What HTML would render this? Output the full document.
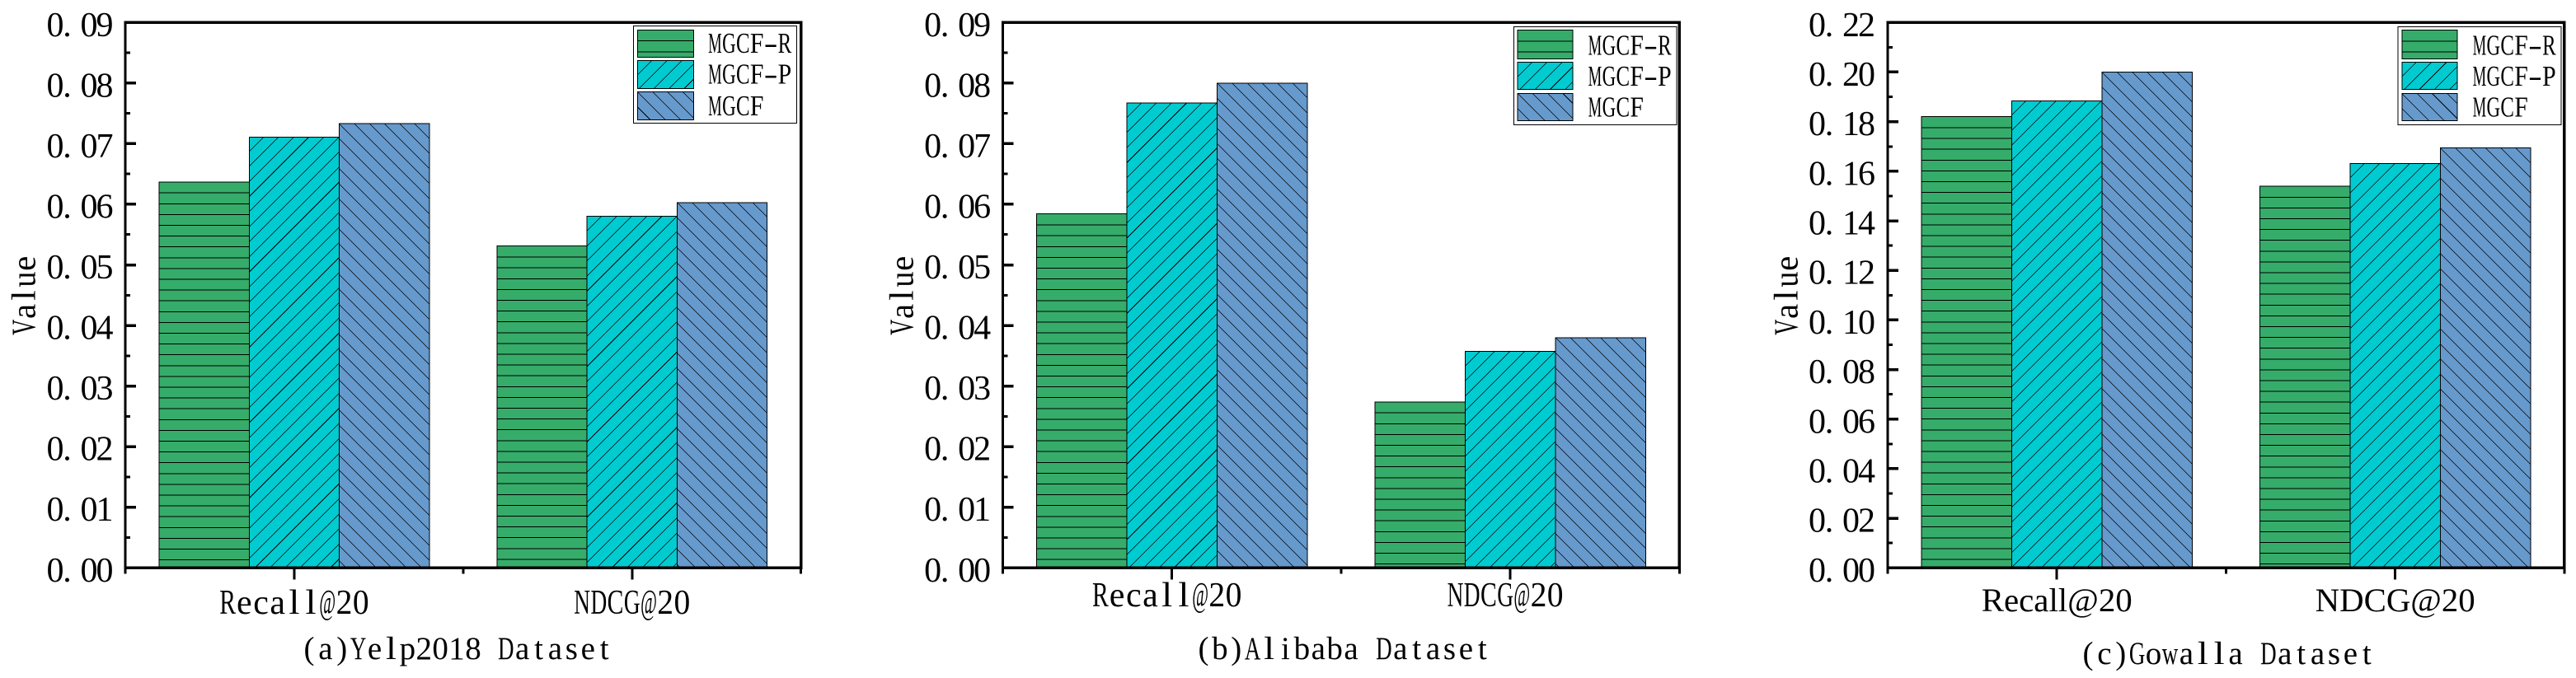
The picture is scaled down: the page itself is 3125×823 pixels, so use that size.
<!DOCTYPE html>
<html lang="en">
<head>
<meta charset="utf-8">
<title>MGCF comparison charts</title>
<style>
html,body{margin:0;padding:0;background:#fff;width:3125px;height:823px;overflow:hidden}
svg{display:block}
text{font-family:"Liberation Serif","Noto Serif CJK SC",serif;fill:#000}
.leg{font-size:35px}
.cap{font-size:39px}
.val{font-size:41px}
</style>
</head>
<body>
<svg id="figure" xmlns="http://www.w3.org/2000/svg" width="3125" height="823" viewBox="0 0 3125 823">
  <defs id="defs"></defs>
  <rect x="0" y="0" width="3125" height="823" fill="#fff"/>

  <g id="panel-a">
    <g id="marks-a"></g>
    <text class="val mono" data-slot="19.4" x="0" y="0" transform="translate(42.5,407) rotate(-90)">Value</text>
    <text class="cap mono" data-slot="19.9" x="365" y="800">(a)Yelp2018 Dataset</text>
    <g>
      <rect x="768.3" y="31.5" width="198.4" height="118" fill="#fff" stroke="#000" stroke-width="1" shape-rendering="crispEdges"/>
      <g id="legend-a"></g>
      <text class="leg mono" data-slot="16.9" x="859" y="64">MGCF-R</text>
      <text class="leg mono" data-slot="16.9" x="859" y="101.7">MGCF-P</text>
      <text class="leg mono" data-slot="16.9" x="859" y="140">MGCF</text>
    </g>
  </g>

  <g id="panel-b">
    <g id="marks-b"></g>
    <text class="val mono" data-slot="19.4" x="0" y="0" transform="translate(1107.5,407) rotate(-90)">Value</text>
    <text class="cap mono" data-slot="19.9" x="1450" y="800">(b)Alibaba Dataset</text>
    <g>
      <rect x="1836.3" y="32.5" width="197.7" height="119" fill="#fff" stroke="#000" stroke-width="1" shape-rendering="crispEdges"/>
      <g id="legend-b"></g>
      <text class="leg mono" data-slot="16.9" x="1926.5" y="66.7">MGCF-R</text>
      <text class="leg mono" data-slot="16.9" x="1926.5" y="104">MGCF-P</text>
      <text class="leg mono" data-slot="16.9" x="1926.5" y="141.7">MGCF</text>
    </g>
  </g>

  <g id="panel-c">
    <g id="marks-c"></g>
    <text class="val mono" data-slot="19.4" x="0" y="0" transform="translate(2180.5,407) rotate(-90)">Value</text>
    <text class="cap mono" data-slot="19.9" x="2523" y="806">(c)Gowalla Dataset</text>
    <g>
      <rect x="2909" y="32.5" width="198" height="119" fill="#fff" stroke="#000" stroke-width="1" shape-rendering="crispEdges"/>
      <g id="legend-c"></g>
      <text class="leg mono" data-slot="16.9" x="2999.4" y="66.7">MGCF-R</text>
      <text class="leg mono" data-slot="16.9" x="2999.4" y="104">MGCF-P</text>
      <text class="leg mono" data-slot="16.9" x="2999.4" y="141.7">MGCF</text>
    </g>
  </g>
</svg>

<script>
const categories = ['Recall@20', 'NDCG@20'];
const seriesKeys = ['mgcf-r', 'mgcf-p', 'mgcf'];

const yelpMgcfR = [0.0637, 0.0531];
const yelpMgcfP = [0.0711, 0.0580];
const yelpMgcf = [0.0733, 0.0603];
const yelpTicks = ['0.00', '0.01', '0.02', '0.03', '0.04', '0.05', '0.06', '0.07', '0.08', '0.09'];

const alibabaMgcfR = [0.0584, 0.0274];
const alibabaMgcfP = [0.0767, 0.0357];
const alibabaMgcf = [0.0800, 0.0380];
const alibabaTicks = ['0.00', '0.01', '0.02', '0.03', '0.04', '0.05', '0.06', '0.07', '0.08', '0.09'];

const gowallaMgcfR = [0.1820, 0.1540];
const gowallaMgcfP = [0.1884, 0.1631];
const gowallaMgcf = [0.2000, 0.1694];
const gowallaTicks = ['0.00', '0.02', '0.04', '0.06', '0.08', '0.10', '0.12', '0.14', '0.16', '0.18', '0.20', '0.22'];

const NS = 'http://www.w3.org/2000/svg';
const defs = document.getElementById('defs');
const fills = ['#36AC6A', '#00CBD0', '#6699CC'];
const measureCtx = document.createElement('canvas').getContext('2d');
let clipCount = 0;

function mk(tag, attrs, parent) {
  const el = document.createElementNS(NS, tag);
  for (const k in attrs) el.setAttribute(k, attrs[k]);
  if (parent) parent.appendChild(el);
  return el;
}

/* half-width look: every character sits in an equal slot, wide glyphs squeezed to fit */
function monoText(el, slot, fontSize) {
  const str = el.textContent;
  const x0 = parseFloat(el.getAttribute('x'));
  measureCtx.font = fontSize + 'px "Liberation Serif"';
  el.textContent = '';
  Array.from(str).forEach(function (ch, i) {
    const natural = measureCtx.measureText(ch).width;
    let target = Math.min(natural, slot * 0.98);
    if (ch === '-') target = slot;
    if (ch === 'l') target = slot * 0.65;
    const ts = mk('tspan', { x: x0 + i * slot + (slot - target) / 2 }, el);
    if (ch !== ' ' && Math.abs(natural - target) > 0.01) {
      ts.setAttribute('textLength', target);
      ts.setAttribute('lengthAdjust', 'spacingAndGlyphs');
    }
    ts.textContent = ch;
  });
}

function hatchPath(kind, x, y, w, h) {
  let d = '';
  if (kind === 0) {
    const T = 13.1;
    for (let s = 13.4; s < h; s += T) {
      d += 'M' + x + ' ' + (y + s) + 'H' + (x + w);
    }
  } else if (kind === 1) {
    const T = 18.3;
    for (let s = 17.5; s < w + h; s += T) {
      d += 'M' + (x + s) + ' ' + y + 'L' + x + ' ' + (y + s);
    }
  } else {
    const T = 18.3;
    const start = -Math.ceil(h / T) * T;
    for (let s = start; s < w; s += T) {
      d += 'M' + (x + s) + ' ' + y + 'L' + (x + s + h) + ' ' + (y + h);
    }
  }
  return d;
}

function drawHatched(g, name, kind, x, y, w, h) {
  const id = 'clip-' + (clipCount++);
  const clip = mk('clipPath', { id: id }, defs);
  mk('rect', { x: x, y: y, width: w, height: h }, clip);

  const base = mk('rect', { x: x, y: y, width: w, height: h, fill: fills[kind], stroke: '#000', 'stroke-width': 1, 'shape-rendering': 'crispEdges' }, g);
  
  

  const lines = mk('path', { d: hatchPath(kind, x, y, w, h), fill: 'none', stroke: '#000', 'stroke-width': kind === 0 ? 1 : 0.72, 'shape-rendering': 'crispEdges', 'clip-path': 'url(#' + id + ')' }, g);
  
  
}

function drawLegend(group, prefix, layout) {
  seriesKeys.forEach(function (key, j) {
    drawHatched(group, prefix + '-legend-swatch-' + key, j, layout.x, layout.ys[j], layout.w, layout.hs[j]);
  });
}

function drawPanel(cfg) {
  const g = document.getElementById(cfg.target);
  const width = cfg.right - cfg.left;
  const band = width / categories.length;
  const barW = band * 4 / 15;
  const yMax = parseFloat(cfg.ticks[cfg.ticks.length - 1]);
  const yScale = function (v) { return cfg.base - (v / yMax) * (cfg.base - cfg.top); };
  const xCenter = function (i) { return cfg.left + (i + 0.5) * band; };

  cfg.series.forEach(function (values, j) {
    values.forEach(function (v, i) {
      const x = xCenter(i) + (j - 1.5) * barW;
      const y = yScale(v);
      const name = cfg.prefix + '-bar-' + seriesKeys[j] + '-' + categories[i].toLowerCase().replace('@', '');
      drawHatched(g, name, j, x, y, barW, cfg.base - y);
    });
  });

  const spine = mk('rect', {
    x: cfg.left, y: cfg.top, width: width, height: cfg.base - cfg.top,
    fill: 'none', stroke: '#000', 'stroke-width': 3.3, 'shape-rendering': 'crispEdges'
  }, g);
  
  

  cfg.ticks.forEach(function (label, t) {
    const v = parseFloat(label);
    const y = yScale(v);
    const major = mk('line', { x1: cfg.left, y1: y, x2: cfg.left + 13, y2: y, stroke: '#000', 'stroke-width': 3.5, 'shape-rendering': 'crispEdges' }, g);
    
    

    if (t < cfg.ticks.length - 1) {
      const mid = yScale((v + parseFloat(cfg.ticks[t + 1])) / 2);
      const minor = mk('line', { x1: cfg.left, y1: mid, x2: cfg.left + 6, y2: mid, stroke: '#000', 'stroke-width': 3, 'shape-rendering': 'crispEdges' }, g);
      
      
    }

    const offs = [10, 24.5, 51, 70];
    const tx = mk('text', {
      x: offs.map(function (o) { return cfg.tickLeft + o; }).join(' '),
      y: y + 16.5, 'text-anchor': 'middle', 'font-size': 42
    }, g);
    tx.textContent = label;
    
    
  });

  categories.forEach(function (name, i) {
    const cx = xCenter(i);
    const tick = mk('line', { x1: cx, y1: cfg.base, x2: cx, y2: cfg.base + 14, stroke: '#000', 'stroke-width': 3, 'shape-rendering': 'crispEdges' }, g);
    
    

    const lab = mk('text', { 'font-size': cfg.labelSize, y: cfg.labelBase }, g);
    lab.textContent = name;
    if (cfg.labelSlot) {
      lab.setAttribute('x', cx + cfg.labelShift - name.length * cfg.labelSlot / 2);
      monoText(lab, cfg.labelSlot, cfg.labelSize);
    } else {
      lab.setAttribute('x', cx + cfg.labelShift);
      lab.setAttribute('text-anchor', 'middle');
      lab.setAttribute('textLength', cfg.labelWidths[i]);
      lab.setAttribute('lengthAdjust', 'spacingAndGlyphs');
    }
    
    
  });

  for (let m = 0; m <= categories.length; m++) {
    const mx = cfg.left + m * band;
    const minorX = mk('line', { x1: mx, y1: cfg.base, x2: mx, y2: cfg.base + 7, stroke: '#000', 'stroke-width': 3, 'shape-rendering': 'crispEdges' }, g);
    
    
  }
}

drawPanel({
  target: 'marks-a', prefix: 'yelp', left: 152, right: 971.7, top: 27.3, base: 689.3,
  ticks: yelpTicks, series: [yelpMgcfR, yelpMgcfP, yelpMgcf],
  tickLeft: 57, labelShift: 0, labelBase: 745, labelSize: 42, labelSlot: 20.2
});
drawPanel({
  target: 'marks-b', prefix: 'alibaba', left: 1216.5, right: 2037.3, top: 27.3, base: 689.3,
  ticks: alibabaTicks, series: [alibabaMgcfR, alibabaMgcfP, alibabaMgcf],
  tickLeft: 1121.6, labelShift: -6, labelBase: 736, labelSize: 42, labelSlot: 20.2
});
drawPanel({
  target: 'marks-c', prefix: 'gowalla', left: 2290, right: 3110.9, top: 27.3, base: 689.3,
  ticks: gowallaTicks, series: [gowallaMgcfR, gowallaMgcfP, gowallaMgcf],
  tickLeft: 2194.5, labelShift: 0, labelBase: 742, labelSize: 40, labelWidths: [183, 194]
});

drawLegend(document.getElementById('legend-a'), 'yelp', { x: 773.3, w: 68.4, ys: [36.3, 73.5, 111.5], hs: [33.2, 34, 34] });
drawLegend(document.getElementById('legend-b'), 'alibaba', { x: 1841, w: 67, ys: [36.7, 75.6, 113.4], hs: [34.7, 33.1, 33.1] });
drawLegend(document.getElementById('legend-c'), 'gowalla', { x: 2913.8, w: 67, ys: [36.7, 75.6, 113.4], hs: [34.7, 33.1, 33.1] });

document.querySelectorAll('text.mono').forEach(function (el) {
  const size = parseFloat(getComputedStyle(el).fontSize);
  monoText(el, parseFloat(el.getAttribute('data-slot')), size);
});
</script>
</body>
</html>
